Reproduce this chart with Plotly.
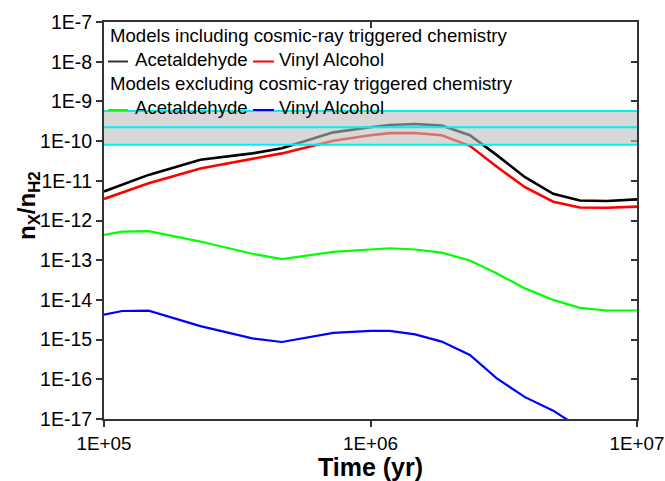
import plotly.graph_objects as go

# ---- data ----
time_yr = [1.0e5, 1.17e5, 1.47e5, 2.3e5, 3.6e5, 4.65e5, 7.25e5, 1.0e6, 1.18e6,
           1.47e6, 1.85e6, 2.36e6, 2.97e6, 3.8e6, 4.85e6, 6.1e6, 7.7e6, 1.0e7]

cr_acetaldehyde = [5.4e-12, 8.1e-12, 1.41e-11, 3.4e-11, 4.9e-11, 6.6e-11, 1.66e-10, 2.23e-10, 2.54e-10,
                   2.69e-10, 2.46e-10, 1.41e-10, 4.5e-11, 1.23e-11, 4.7e-12, 3.2e-12, 3.1e-12, 3.4e-12]
cr_vinyl_alcohol = [3.5e-12, 5.0e-12, 8.7e-12, 2.05e-11, 3.5e-11, 4.9e-11, 1.02e-10, 1.41e-10, 1.59e-10,
                    1.6e-10, 1.41e-10, 7.6e-11, 2.3e-11, 6.9e-12, 2.97e-12, 2.13e-12, 2.1e-12, 2.24e-12]
nocr_acetaldehyde = [4.32e-13, 5.25e-13, 5.37e-13, 2.95e-13, 1.45e-13, 1.07e-13, 1.62e-13, 1.9e-13, 2.0e-13,
                     1.86e-13, 1.55e-13, 9.8e-14, 4.7e-14, 1.95e-14, 1.0e-14, 6.3e-15, 5.4e-15, 5.4e-15]
nocr_vinyl_alcohol = [4.27e-15, 5.25e-15, 5.37e-15, 2.19e-15, 1.07e-15, 8.7e-16, 1.48e-15, 1.66e-15, 1.65e-15,
                      1.35e-15, 8.9e-16, 4.1e-16, 1.07e-16, 3.55e-17, 1.62e-17, 6.0e-18, None, None]

# observed abundance band (lower, central, upper)
obs_low, obs_mid, obs_high = 8.1e-11, 2.24e-10, 5.7e-10

x_tickvals = [1e5, 1e6, 1e7]
x_ticktext = ["1E+05", "1E+06", "1E+07"]
y_exponents = list(range(-17, -6))
y_tickvals = [10.0 ** e for e in y_exponents]
y_ticktext = ["1E%d" % e for e in y_exponents]

FONT = "Liberation Sans, Arial, Helvetica, sans-serif"
AX = "#333333"

fig = go.Figure()
series = [
    (cr_acetaldehyde, "#000000", 2.6),
    (cr_vinyl_alcohol, "#ff0000", 2.6),
    (nocr_acetaldehyde, "#00ff00", 2.2),
    (nocr_vinyl_alcohol, "#0000ff", 2.2),
]
for vals, col, w in series:
    fig.add_trace(go.Scatter(x=time_yr, y=vals, mode="lines",
                             line=dict(color=col, width=w), showlegend=False,
                             connectgaps=False, hoverinfo="skip"))

# invisible copy on the overlaid (top/right) axes so that those axes get drawn
fig.add_trace(go.Scatter(x=time_yr, y=cr_acetaldehyde, xaxis="x2", yaxis="y2", mode="lines",
                         line=dict(width=0, color="rgba(0,0,0,0)"), opacity=0,
                         showlegend=False, hoverinfo="skip"))

# band (drawn above lines, semi-transparent) and cyan lines
fig.add_shape(type="rect", xref="paper", yref="y", x0=0, x1=1, y0=obs_low, y1=obs_high,
              fillcolor="rgb(190,190,190)", opacity=0.6, line=dict(width=0), layer="above")
for v in (obs_low, obs_mid, obs_high):
    fig.add_shape(type="line", xref="paper", yref="y", x0=0, x1=1, y0=v, y1=v,
                  line=dict(color="#00f0f0", width=2), layer="above")

# legend-like annotations
def px_x(px):
    return (px - 104) / 533.0

def px_y(py):
    return (419 - py) / 397.0

tf = dict(family=FONT, size=18.6, color="#000000")
legend_texts = [
    ("Models including cosmic-ray triggered chemistry", 108, 35),
    ("Acetaldehyde", 133, 59),
    ("Vinyl Alcohol", 277, 59),
    ("Models excluding cosmic-ray triggered chemistry", 108, 83),
    ("Acetaldehyde", 133, 107),
    ("Vinyl Alcohol", 277, 107),
]
for t, lx, ly in legend_texts:
    fig.add_annotation(text=t, xref="paper", yref="paper", x=px_x(lx), y=px_y(ly),
                       xanchor="left", yanchor="middle", showarrow=False, font=tf)
for col, x0, x1, yy in [("#333333", 108, 128, 61.5), ("#ff0000", 253, 274, 61.5),
                        ("#00ff00", 108, 128, 110), ("#0000ff", 253, 274, 110)]:
    fig.add_shape(type="line", xref="paper", yref="paper", x0=px_x(x0), x1=px_x(x1),
                  y0=px_y(yy), y1=px_y(yy), line=dict(color=col, width=2), layer="above")

# y-axis title
fig.add_annotation(text="<b>n<sub>X</sub>/n<sub>H2</sub></b>", xref="paper", yref="paper",
                   x=px_x(28), y=px_y(206), xanchor="center", yanchor="middle",
                   textangle=-90, showarrow=False, font=dict(family=FONT, size=24, color="#000"))

common = dict(showgrid=False, zeroline=False, showline=True, linecolor=AX, linewidth=2,
              tickcolor=AX, tickwidth=2, ticklen=6, automargin=False)

fig.update_layout(
    width=665, height=481,
    margin=dict(l=104, r=28, t=22, b=62),
    paper_bgcolor="white", plot_bgcolor="white",
    font=dict(family=FONT, color="#000"),
    xaxis=dict(type="log", range=[5, 7], tickvals=x_tickvals, ticktext=x_ticktext,
               ticks="outside", tickfont=dict(size=18.8, family=FONT, color="#000"),
               ticklabeloverflow="allow",
               title=dict(text="<b>Time (yr)</b>", font=dict(size=25, family=FONT, color="#000"),
                          standoff=4),
               **common),
    yaxis=dict(type="log", range=[-17, -7], tickvals=y_tickvals, ticktext=y_ticktext,
               ticks="outside", tickfont=dict(size=19.5, family=FONT, color="#000"),
               ticklabeloverflow="allow", **common),
    xaxis2=dict(type="log", range=[5, 7], tickvals=x_tickvals, overlaying="x", side="top",
                anchor="y2", ticks="inside", showticklabels=False, **common),
    yaxis2=dict(type="log", range=[-17, -7], tickvals=y_tickvals, overlaying="y", side="right",
                anchor="x2", ticks="inside", showticklabels=False, **common),
)

fig.write_html("out.html")
